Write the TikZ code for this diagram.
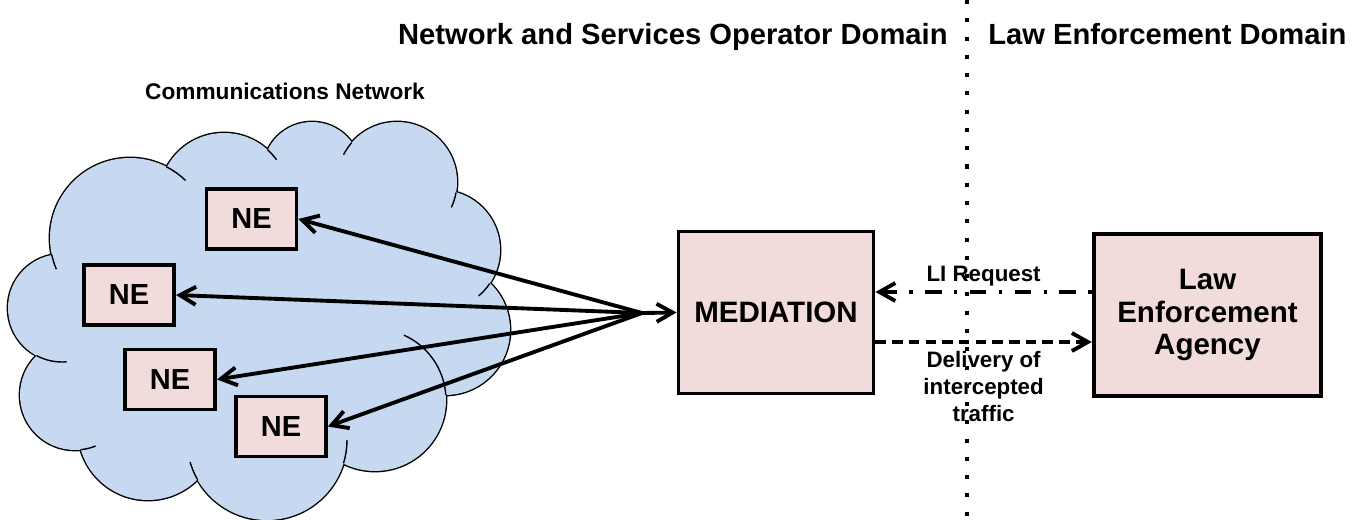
\documentclass[tikz,border=0pt]{standalone}
\usepackage{fontspec}
\setmainfont{Liberation Sans}
\usetikzlibrary{arrows.meta, positioning, calc}

\definecolor{cloudblue}{RGB}{198,217,241}
\definecolor{boxpink}{RGB}{242,220,219}

% puffs of the cloud: centre x / centre y / radius
\def\cloudpuffs{1.24/-6.16/1.08, 2.60/-4.76/1.60, 4.48/-3.96/1.30, 6.24/-3.42/0.98,
  7.94/-3.64/1.20, 8.80/-5.00/1.20, 8.90/-6.60/1.30, 7.50/-8.00/1.42,
  5.34/-8.80/1.60, 2.96/-8.60/1.40, 1.50/-7.90/1.10}

\begin{document}
\begin{tikzpicture}[>={Straight Barb[length=3.2mm, width=3.6mm]},
  nebox/.style={draw, line width=2.2pt, fill=boxpink, minimum width=1.8cm,
                minimum height=1.2cm, font=\fontsize{16.5}{19}\selectfont\bfseries},
  bigbox/.style={draw, line width=2.2pt, fill=boxpink, minimum height=3.24cm,
                 align=center, font=\fontsize{16.8}{18.6}\selectfont\bfseries},
  link/.style={line width=2.2pt, line cap=round, ->},
  domtitle/.style={inner sep=0pt, font=\fontsize{16.6}{19}\selectfont\bfseries},
  cloudtitle/.style={inner sep=0pt, font=\fontsize{12.9}{15}\selectfont\bfseries},
  lbl/.style={align=center, font=\fontsize{12.7}{15.4}\selectfont\bfseries}]

\useasboundingbox (0,0) rectangle (27.36,-10.4);

% ---- Communications network cloud ---------------------------------------
\foreach \cx/\cy/\r in \cloudpuffs {\draw[line width=1.6pt] (\cx,\cy) circle (\r);}
\fill[cloudblue] (1.24,-6.16) -- (2.60,-4.76) -- (4.48,-3.96) -- (6.24,-3.42)
  -- (7.94,-3.64) -- (8.80,-5.00) -- (8.90,-6.60) -- (7.50,-8.00)
  -- (5.34,-8.80) -- (2.96,-8.60) -- (1.50,-7.90) -- cycle;
\foreach \cx/\cy/\r in \cloudpuffs {\fill[cloudblue] (\cx,\cy) circle (\r);}
% inner arcs of the puffs
\foreach \cx/\cy/\r/\a/\b in {2.60/-4.76/1.60/192/203, 2.60/-4.76/1.60/63/46,
    4.48/-3.96/1.30/48/36, 7.94/-3.64/1.20/139/153, 7.94/-3.64/1.20/-10/-25,
    8.80/-5.00/1.20/-34/-50, 7.50/-8.00/1.42/4/66, 5.34/-8.80/1.60/-17/0,
    5.34/-8.80/1.60/210/196, 1.50/-7.90/1.10/-84/-68, 1.24/-6.16/1.08/242/275}
  {\draw[line width=0.8pt] (\cx,\cy) ++(\a:\r) arc[start angle=\a, end angle=\b, radius=\r];}

\node[cloudtitle, anchor=base] (cnet) at (5.70,-2.00) {Communications Network};

% ---- Network elements -----------------------------------------------------
\node[nebox] (ne1) at (5.03,-4.38) {NE};
\node[nebox] (ne2) at (2.58,-5.90) {NE};
\node[nebox] (ne3) at (3.40,-7.59) {NE};
\node[nebox] (ne4) at (5.62,-8.53) {NE};

% ---- Mediation and agency -------------------------------------------------
\node[bigbox, minimum width=3.9cm] (med) at (15.52,-6.25) {MEDIATION};
\node[bigbox, minimum width=4.55cm] (lea) at (24.15,-6.30) {Law\\Enforcement\\Agency};

% fan of links from the mediation to the NEs
\coordinate (hub) at (12.84,-6.26);
\foreach \n in {ne1,ne2,ne3,ne4} {\draw[link] (hub) -- (\n.east);}
\draw[link] (hub) -- (med.west);

% request and delivery
\coordinate (lipt) at ([yshift=0.41cm]med.east);
\coordinate (dlpt) at ([yshift=-0.59cm]med.east);
\draw[link, line cap=butt, dash pattern=on 2pt off 7pt on 9.5pt off 7pt]
  (lea.west |- lipt) -- (lipt) node[midway, above=-1pt, lbl] (lireq) {LI Request};
\draw[link, line cap=butt, dash pattern=on 6pt off 3.5pt]
  (dlpt) -- (lea.west |- dlpt) node[midway, below=1pt, lbl] (deliv) {Delivery of\\intercepted\\traffic};

% ---- Domains --------------------------------------------------------------
\node[domtitle, anchor=base east] (nsod) at (18.96,-0.90) {Network and Services Operator Domain};
\node[domtitle, anchor=base west] (led) at (19.76,-0.90) {Law Enforcement Domain};
\coordinate (divtop) at (19.34,0);
\coordinate (divbot) at (19.34,-10.4);
\draw[line width=2.3pt, dash pattern=on 2.3pt off 8.1pt] (divtop) -- (divbot);

\end{tikzpicture}
\end{document}
